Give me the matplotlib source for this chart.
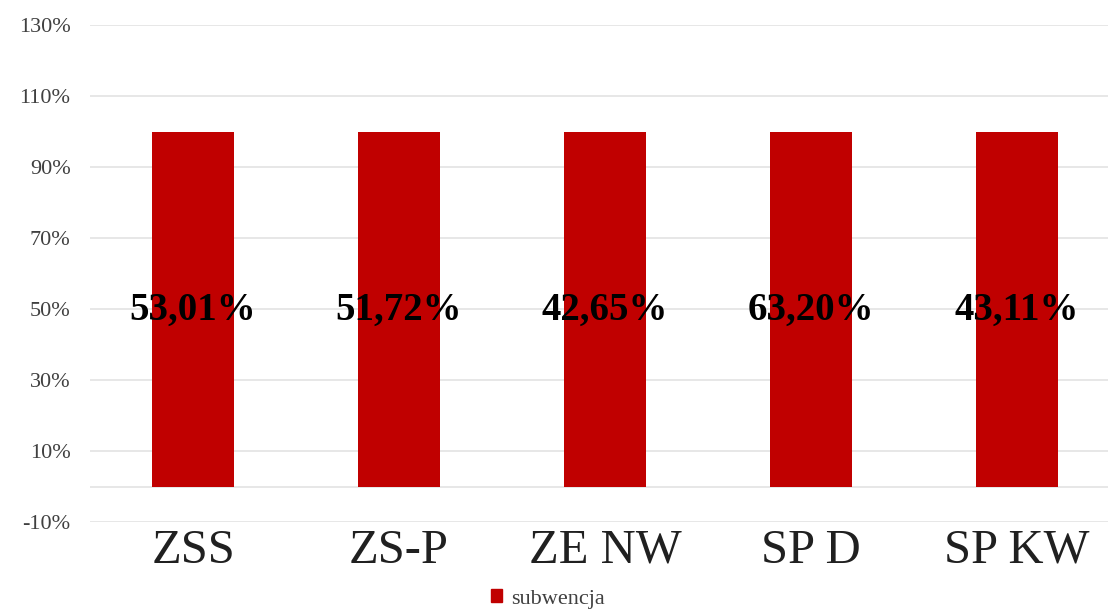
import matplotlib
matplotlib.use("Agg")
import matplotlib.pyplot as plt
from matplotlib.patches import Patch
from matplotlib.ticker import FixedLocator

categories = ["ZSS", "ZS-P", "ZE NW", "SP D", "SP KW"]
values = [100, 100, 100, 100, 100]
labels = ["53,01%", "51,72%", "42,65%", "63,20%", "43,11%"]
yticks = [-10, 10, 30, 50, 70, 90, 110, 130]
series_name = "subwencja"

plt.rcParams['font.family'] = ['Liberation Serif', 'DejaVu Serif']

fig = plt.figure(figsize=(11.08, 6.11), dpi=100)
ax = fig.add_axes([90/1108, 89/611, 1018/1108, 497/611])

x = list(range(len(categories)))
ax.bar(x, values, width=0.4, color="#c00000", zorder=2)
for xi, lab in zip(x, labels):
    ax.text(xi, 49.5, lab, ha="center", va="center", fontsize=28,
            fontweight="bold", color="black", zorder=3)

ax.set_xlim(-0.5, -0.5 + 1018/206)
ax.set_ylim(-10, 130)
ax.yaxis.set_major_locator(FixedLocator(yticks))
ax.set_yticklabels([f"{t}%" for t in yticks], fontsize=16, color="#404040")
ax.set_xticks(x)
ax.set_xticklabels(categories, fontsize=35, color="#202020")
ax.tick_params(axis="y", length=0, pad=14)
ax.tick_params(axis="x", length=0, pad=5)
ax.grid(axis="y", color="#e3e3e3", linewidth=1.2, zorder=0)
ax.axhline(0, color="#e3e3e3", linewidth=1.2, zorder=1)
for s in ax.spines.values():
    s.set_visible(False)

fig.legend(handles=[Patch(color="#c00000", label=series_name)],
           loc="center", bbox_to_anchor=(548/1108, 1 - 599/611),
           frameon=False, fontsize=16, handlelength=0.5, handleheight=0.5,
           handletextpad=0.4, labelcolor="#404040")

fig.savefig("out.png", dpi=100)
